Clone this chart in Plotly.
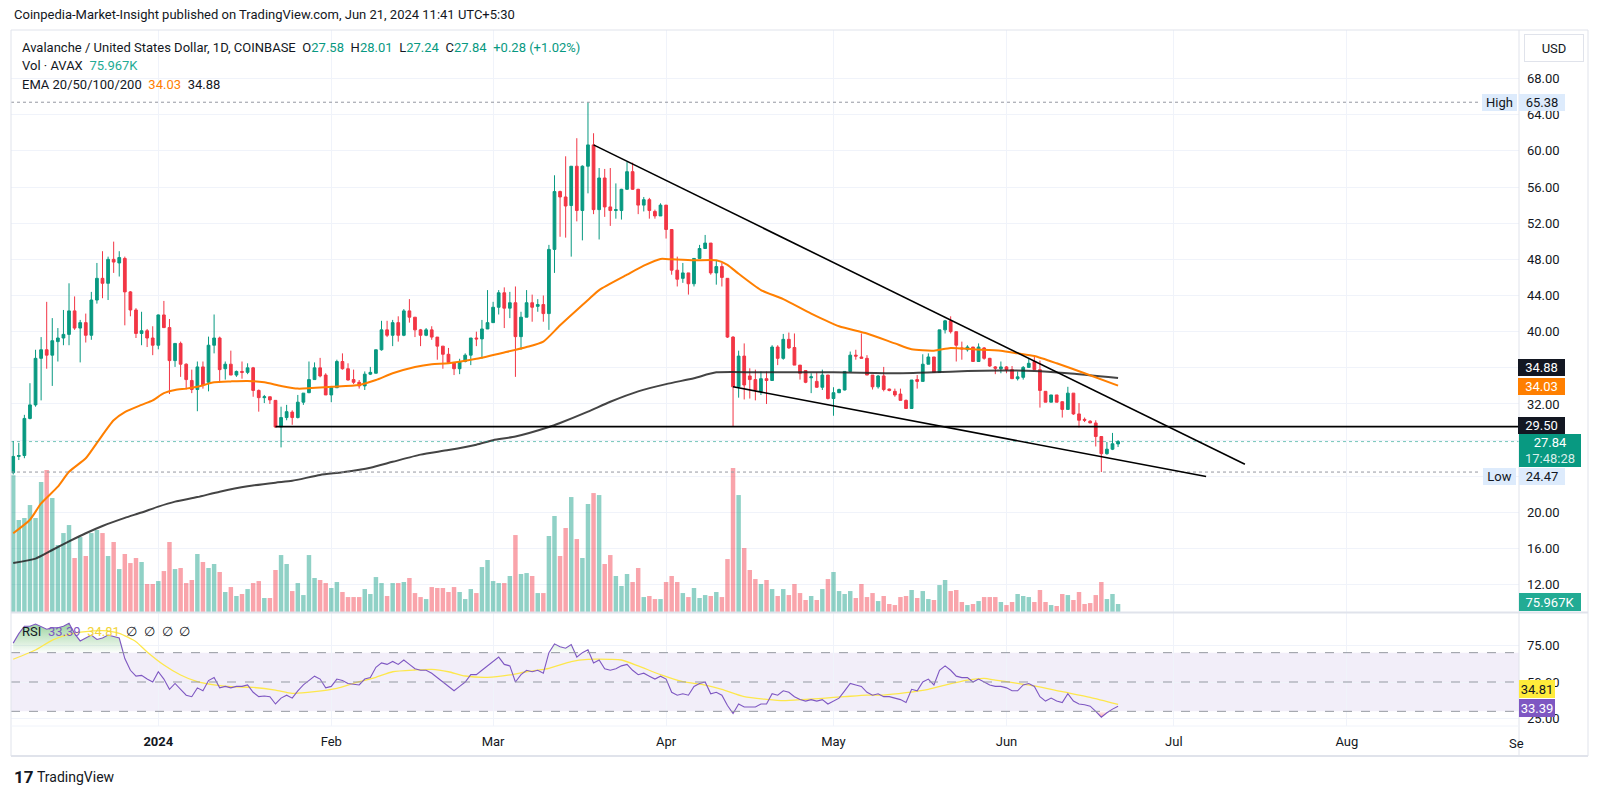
import plotly.graph_objects as go
import pandas as pd

# ---------------- data ----------------
dates = pd.date_range("2023-12-06", periods=199, freq="D")

opens = [24.4,26.2,26.3,30.4,31.9,37.05,38.0,37.4,38.9,39.3,
         39.7,42.3,40.4,41.0,39.6,43.5,45.9,45.35,48.0,47.6,
         48.1,44.4,42.4,39.8,40.1,39.3,38.5,41.85,40.45,36.8,
         38.7,36.4,34.6,33.6,36.1,34.4,38.5,39.3,35.9,36.4,
         35.2,35.6,35.5,36.0,33.5,32.7,32.8,32.4,29.45,30.5,
         31.1,30.5,32.2,33.25,34.7,36.0,35.2,33.0,33.8,36.7,
         35.9,34.7,34.4,34.0,35.3,35.4,38.0,40.2,39.6,41.0,
         39.6,42.3,41.6,40.2,39.6,40.2,39.4,38.4,37.5,36.6,
         35.9,36.7,37.4,39.3,39.2,40.3,41.0,42.7,44.3,42.6,
         43.2,39.45,41.6,43.2,42.8,43.0,42.0,49.1,55.5,54.9,
         53.95,58.3,53.4,58.3,60.66,53.5,57.0,53.8,53.4,53.4,
         55.75,57.7,55.75,54.0,54.6,53.3,52.8,54.0,51.3,46.8,
         45.9,46.5,45.3,48.1,49.2,49.8,46.5,47.2,45.9,39.4,
         33.9,37.3,35.1,34.7,33.4,34.8,34.6,38.3,37.05,39.15,
         38.25,36.3,35.7,34.9,34.5,33.85,35.2,32.6,33.25,33.55,
         35.6,37.4,37.2,37.05,35.2,33.9,35.1,33.65,33.4,33.1,
         32.4,31.5,34.7,34.5,36.4,37.2,35.5,40.2,41.2,40.0,
         38.2,38.0,38.3,36.7,38.2,37.05,36.1,35.9,36.1,35.8,
         34.8,34.95,36.05,36.7,35.8,33.4,32.2,33.0,32.25,31.4,
         33.2,30.9,30.3,30.1,29.9,28.4,26.5,27.0,27.58]
highs = [27.9,27.7,30.8,34.3,38.0,39.4,43.3,41.5,40.4,42.4,
         45.35,43.9,41.3,42.0,44.4,47.6,48.9,48.3,49.96,48.9,
         48.3,44.5,42.6,42.2,40.3,40.6,41.9,43.4,41.4,38.7,
         38.9,36.5,35.8,36.7,36.7,39.45,41.9,39.45,36.7,37.9,
         35.7,36.7,36.5,36.1,33.6,33.0,32.8,32.4,31.7,31.9,
         31.3,33.0,33.2,36.7,36.6,37.1,35.4,33.8,36.9,37.6,
         36.5,35.8,34.65,35.6,36.1,38.0,41.2,41.2,41.3,41.7,
         42.5,43.6,41.6,40.3,40.4,40.6,39.4,38.4,38.2,36.6,
         37.0,37.6,39.3,40.0,41.3,44.6,43.3,44.6,44.9,44.4,
         45.0,42.2,44.6,44.1,43.6,44.0,49.6,57.3,55.6,59.4,
         58.3,61.4,58.4,65.38,61.95,58.1,58.0,58.1,56.4,55.8,
         58.8,58.7,55.8,54.9,54.8,53.5,54.2,54.0,51.3,48.3,
         47.6,46.5,48.1,49.6,50.7,49.8,47.9,47.6,45.9,39.5,
         37.9,38.7,35.95,35.8,35.6,35.6,38.5,38.5,39.75,39.9,
         39.8,36.3,35.7,35.4,35.5,35.8,35.2,33.85,33.7,35.6,
         37.8,38.0,39.8,37.4,35.2,35.2,36.1,33.7,33.7,33.7,
         32.5,34.65,35.2,37.5,37.6,37.2,40.2,41.3,41.7,40.0,
         38.9,38.5,38.3,38.7,38.3,37.1,36.2,36.7,36.2,36.2,
         35.6,36.2,37.05,37.2,36.8,33.4,33.0,33.0,32.3,33.9,
         33.2,32.1,30.5,30.2,30.2,28.4,27.8,28.8,28.01]
lows = [24.2,25.8,26.0,30.3,31.7,32.4,35.9,34.0,36.7,38.5,
        38.5,40.2,36.6,38.8,39.1,43.1,43.7,43.5,46.5,46.1,
        40.7,41.7,39.3,38.5,38.3,37.4,38.05,40.4,33.1,36.1,
        35.0,33.6,33.2,31.2,33.7,33.4,37.6,34.5,34.7,35.2,
        35.0,34.8,35.3,32.8,31.15,32.1,32.0,29.4,27.2,30.2,
        29.7,30.4,31.9,33.2,34.7,34.95,33.0,32.2,33.8,35.8,
        34.6,34.2,33.7,33.55,35.2,35.4,37.9,39.4,38.4,38.9,
        39.5,41.0,39.4,38.4,39.5,39.1,36.9,35.9,36.5,35.2,
        35.3,36.6,36.3,38.4,37.0,40.3,41.0,41.9,40.4,41.5,
        35.0,38.0,41.6,41.1,42.2,41.1,40.2,46.5,50.5,50.4,
        48.3,52.2,50.1,55.3,53.0,50.2,52.7,51.7,52.5,52.4,
        55.7,55.7,53.0,53.3,52.5,52.5,52.8,50.3,46.3,45.0,
        45.4,44.1,45.0,48.1,49.2,46.3,45.2,45.0,39.3,29.5,
        32.7,32.5,32.6,32.4,33.0,32.0,34.6,36.3,36.9,38.1,
        36.3,34.7,34.3,33.2,33.8,33.55,32.5,30.7,33.2,33.5,
        35.6,36.9,37.05,35.2,33.6,33.7,33.4,33.4,32.8,32.4,
        31.5,31.5,33.7,34.5,36.4,35.5,35.5,39.8,39.8,36.7,
        36.9,37.8,36.7,36.7,36.9,36.1,35.3,35.4,35.4,34.8,
        34.6,34.7,36.0,35.8,31.6,32.2,32.2,32.2,30.5,31.4,
        30.8,29.4,30.0,29.9,27.3,24.47,26.4,26.9,27.24]
closes = [26.2,26.3,30.4,31.9,37.05,38.0,37.4,39.0,39.3,39.7,
          42.3,40.4,41.0,39.6,43.5,45.9,45.35,48.0,47.7,48.2,
          44.4,42.4,39.8,40.1,39.3,38.5,41.85,40.45,36.8,38.7,
          36.4,34.7,33.6,36.1,34.1,38.5,39.3,35.8,36.4,35.2,
          35.6,35.5,36.0,33.5,32.7,32.8,32.45,29.45,30.5,31.15,
          30.5,32.2,33.2,34.7,36.0,35.1,33.0,33.8,36.7,35.9,
          34.65,34.4,34.0,35.3,35.5,38.0,40.2,39.6,41.0,39.6,
          42.3,41.6,40.2,39.6,40.2,39.4,38.4,37.5,36.6,35.9,
          36.7,37.4,39.3,39.2,40.3,41.0,42.7,44.3,42.6,43.2,
          39.45,41.6,43.2,42.7,43.0,42.0,49.1,55.5,54.9,53.9,
          58.3,53.4,58.3,60.66,53.5,57.0,53.8,53.4,53.5,55.75,
          57.7,55.75,54.0,54.6,53.4,52.8,54.0,51.3,46.8,45.8,
          46.5,45.3,48.1,49.2,49.8,46.5,47.2,46.0,39.4,33.9,
          37.3,34.1,34.7,33.55,34.8,34.6,38.3,37.05,39.15,38.2,
          36.3,35.4,34.4,35.0,33.85,35.2,32.6,33.25,33.6,35.6,
          37.4,37.3,37.05,35.2,33.9,35.1,33.6,33.5,33.0,32.4,
          31.5,34.65,34.5,36.4,37.2,35.5,40.2,41.2,40.0,38.5,
          38.1,38.3,36.7,38.3,37.05,36.2,35.95,36.1,35.8,34.8,
          35.0,36.05,36.5,35.8,33.5,32.2,33.0,32.2,31.4,33.2,
          30.9,30.2,30.2,29.9,28.4,26.5,27.0,27.6,27.84]
volume_k = [1300,874,893,1016,893,1235,1349,1083,636,750,
            826,513,712,532,750,779,750,532,665,408,
            551,465,513,475,266,266,294,389,665,408,
            418,275,304,551,475,418,456,380,190,237,
            152,171,218,275,294,133,133,399,541,456,
            199,275,161,541,323,304,275,228,285,190,
            142,142,142,218,171,332,275,152,275,275,
            285,323,180,142,123,237,228,228,190,237,
            190,123,218,180,427,494,294,275,275,342,
            731,361,370,342,180,180,722,912,532,798,
            1092,693,513,1026,1130,1111,456,541,342,247,
            361,285,418,142,152,123,123,285,342,285,
            180,142,228,133,161,152,190,142,503,1368,
            1111,608,399,313,266,304,218,152,218,161,
            266,180,114,152,114,218,313,380,199,171,
            199,133,266,142,180,104,152,76,66,142,
            152,209,133,199,123,114,256,304,199,209,
            95,66,76,104,142,142,142,95,66,95,
            171,152,142,95,209,95,66,57,171,161,
            114,190,76,85,161,285,123,171,75.967]
rsi = [76.5,83,88,88,89.5,88,86,87,87,88,
       90,83,78,80,82,79,80,82,81,80,
       66,58,54,54.5,52,50,57,52,45,49,
       45,41,40,46,44,51,53,46,47,46,
       47,47,48,43,40,40.5,40,35,39,41,
       39,44,48,51,54,52,46,47,52,51,
       49,48.5,48,52,53,60,63,62,64,62,
       65,62,59,58,58,56,53,50,47,44,
       47,50,55,55,58,61,64,67,62,61,
       50,55,58,57,58,56,70,76,74,73,
       75.5,67,70,72,63,65,59,58,59,61,
       62,58,55,56,54,52,54,52,43,41,
       42,41,47,49,50,42,43,41,34,28.5,
       35,33,33,33,35,35,42,41,44,43,
       40,38,37,38,37,38,35,37,39,44,
       49,48,47,43,41,42,40,40,39,38,
       36,45,44,50,52,48,58,61,58,54,
       53,53,50,52,50,48,47,47,46,44,
       44,48,49,47,40,37,39,37,36,42,
       37,35,34.5,33.5,30,26,29,31.5,33.39]

ema50_dates = ["2023-12-06","2023-12-09","2023-12-11","2023-12-14","2023-12-16","2023-12-19","2023-12-21",
               "2023-12-24","2023-12-26","2023-12-29","2023-12-31","2024-01-02","2024-01-04","2024-01-06",
               "2024-01-08","2024-01-11","2024-01-14","2024-01-17","2024-01-20","2024-01-23","2024-01-26",
               "2024-02-01","2024-02-06","2024-02-09","2024-02-12","2024-02-16","2024-02-19","2024-02-22",
               "2024-02-27","2024-03-03","2024-03-07","2024-03-10","2024-03-13","2024-03-18","2024-03-20",
               "2024-03-25","2024-03-28","2024-03-31","2024-04-02","2024-04-06","2024-04-10","2024-04-12",
               "2024-04-14","2024-04-18","2024-04-22","2024-04-27","2024-05-02","2024-05-07","2024-05-12",
               "2024-05-15","2024-05-19","2024-05-22","2024-05-26","2024-05-31","2024-06-03","2024-06-06",
               "2024-06-10","2024-06-15","2024-06-21"]
ema50_vals = [17.7,19.2,21.0,22.85,24.5,26.0,27.7,30.2,31.1,31.9,32.4,
              33.2,33.55,33.7,33.9,34.4,34.5,34.55,34.4,34.0,33.7,
              33.9,34.1,34.65,35.4,36.1,36.4,36.5,37.0,
              37.7,38.3,38.9,40.7,43.5,44.6,46.3,47.3,48.05,
              48.0,47.9,47.9,47.4,46.4,44.6,43.6,42.0,
              40.6,39.8,38.7,38.05,37.9,38.2,38.05,37.9,
              37.6,37.3,36.5,35.4,34.03]

ema200_dates = ["2023-12-06","2023-12-10","2023-12-13","2023-12-16","2023-12-19","2023-12-22","2023-12-26",
                "2023-12-29","2024-01-01","2024-01-04","2024-01-08","2024-01-12","2024-01-17","2024-01-22",
                "2024-01-25","2024-01-30","2024-02-03","2024-02-08","2024-02-12","2024-02-17","2024-02-22",
                "2024-02-27","2024-03-01","2024-03-05","2024-03-11","2024-03-13","2024-03-18","2024-03-22",
                "2024-03-27","2024-04-01","2024-04-06","2024-04-10","2024-04-19","2024-05-01","2024-05-13",
                "2024-05-19","2024-05-25","2024-05-31","2024-06-06","2024-06-12","2024-06-21"]
ema200_vals = [14.4,14.9,15.85,16.8,17.7,18.5,19.4,20.0,
               20.65,21.2,21.7,22.3,22.9,23.3,23.5,24.15,
               24.45,24.95,25.6,26.4,26.9,27.5,
               28.0,28.4,29.45,29.9,31.15,32.25,33.4,
               34.2,34.85,35.5,35.5,
               35.5,35.4,35.5,35.65,35.7,
               35.65,35.4,34.88]

rsima_dates = ["2023-12-06","2023-12-10","2023-12-13","2023-12-16","2023-12-19","2023-12-22","2023-12-25",
               "2023-12-28","2023-12-30","2024-01-02","2024-01-05","2024-01-08","2024-01-11","2024-01-14",
               "2024-01-18","2024-01-22","2024-01-25","2024-01-29","2024-02-02","2024-02-05","2024-02-09",
               "2024-02-12","2024-02-16","2024-02-19","2024-02-22","2024-02-25","2024-02-29","2024-03-04",
               "2024-03-07","2024-03-11","2024-03-15","2024-03-18","2024-03-22","2024-03-24","2024-03-27",
               "2024-03-31","2024-04-04","2024-04-08","2024-04-11","2024-04-15","2024-04-19","2024-04-22",
               "2024-04-26","2024-04-29","2024-05-03","2024-05-07","2024-05-10","2024-05-14","2024-05-18",
               "2024-05-21","2024-05-25","2024-05-28","2024-05-30","2024-06-03","2024-06-06","2024-06-11",
               "2024-06-16","2024-06-21"]
rsima_vals = [65.5,71.8,78.6,82.5,84.3,85.0,83.2,77.5,70.5,
              61.6,54.8,50.2,48.0,46.8,46.3,44.5,42.3,43.4,
              45.7,49.1,53.2,57.0,58.2,58.6,57.0,54.1,53.2,
              54.8,57.0,59.3,63.9,65.4,65.4,65.0,61.0,55.0,
              50.2,47.9,45.0,40.0,38.2,37.3,38.2,38.9,
              40.0,41.1,41.1,42.7,45.0,47.9,51.3,52.5,51.3,
              49.1,47.3,43.4,39.6,34.81]

# user drawings
upper_trend_x = ["2024-03-19", "2024-07-13 17:30"]
upper_trend_y = [60.66, 25.33]
lower_trend_x = ["2024-04-13", "2024-07-06 18:40"]
lower_trend_y = [33.9, 23.98]
support_start = "2024-01-22"
support_level = 29.50
high_val, low_val, last_close = 65.38, 24.47, 27.84

month_ticks = ["2024-01-01","2024-02-01","2024-03-01","2024-04-01","2024-05-01","2024-06-01","2024-07-01","2024-08-01"]
month_labels = ["<b>2024</b>","Feb","Mar","Apr","May","Jun","Jul","Aug"]
price_ticks = [12,16,20,24,28,32,36,40,44,48,52,56,60,64,68]
price_labels = ["12.00","16.00","20.00","","","32.00","","40.00","44.00","48.00","52.00","56.00","60.00","64.00","68.00"]

# ---------------- styling / layout ----------------
UP, DN = "#089981", "#F23645"
UPV, DNV = "rgba(8,153,129,0.45)", "rgba(242,54,69,0.45)"
TXT = "#131722"
GRID = "#F0F3FA"
FONT = "Roboto, 'Noto Sans', sans-serif"

L, R, T, B = 11, 1519, 30, 726
W, H = R - L, B - T
def px(x): return (x - L) / W
def py(y): return (B - y) / H

vol_colors = [UPV if c >= o else DNV for o, c in zip(opens, closes)]
n = len(dates)

fig = go.Figure()
fig.add_trace(go.Bar(x=dates, y=volume_k, marker=dict(color=vol_colors, line=dict(width=0)),
                     xaxis="x", yaxis="y", hoverinfo="skip"))
fig.add_trace(go.Scatter(x=ema200_dates, y=ema200_vals, mode="lines", xaxis="x", yaxis="y3",
                         line=dict(color="rgba(35,35,35,0.85)", width=2, shape="spline", smoothing=0.6),
                         hoverinfo="skip"))
fig.add_trace(go.Scatter(x=ema50_dates, y=ema50_vals, mode="lines", xaxis="x", yaxis="y3",
                         line=dict(color="#FF7F00", width=2, shape="spline", smoothing=0.6),
                         hoverinfo="skip"))
fig.add_trace(go.Candlestick(x=dates, open=opens, high=highs, low=lows, close=closes,
                             xaxis="x", yaxis="y3", whiskerwidth=0,
                             increasing=dict(line=dict(color=UP, width=1), fillcolor=UP),
                             decreasing=dict(line=dict(color=DN, width=1), fillcolor=DN),
                             hoverinfo="skip"))

# RSI overbought / oversold fills
fig.add_trace(go.Scatter(x=dates, y=[70] * n, mode="lines", line=dict(width=0), xaxis="x", yaxis="y2",
                         hoverinfo="skip"))
fig.add_trace(go.Scatter(x=dates, y=[max(v, 70) for v in rsi], mode="lines", line=dict(width=0),
                         fill="tonexty", xaxis="x", yaxis="y2", hoverinfo="skip",
                         fillgradient=dict(type="vertical",
                                           colorscale=[[0, "rgba(76,175,80,0.02)"], [1, "rgba(76,175,80,0.55)"]])))
fig.add_trace(go.Scatter(x=dates, y=[30] * n, mode="lines", line=dict(width=0), xaxis="x", yaxis="y2",
                         hoverinfo="skip"))
fig.add_trace(go.Scatter(x=dates, y=[min(v, 30) for v in rsi], mode="lines", line=dict(width=0),
                         fill="tonexty", xaxis="x", yaxis="y2", hoverinfo="skip",
                         fillgradient=dict(type="vertical",
                                           colorscale=[[0, "rgba(242,54,69,0.5)"], [1, "rgba(242,54,69,0.02)"]])))
fig.add_trace(go.Scatter(x=rsima_dates, y=rsima_vals, mode="lines", xaxis="x", yaxis="y2",
                         line=dict(color="#FDE74C", width=1.3, shape="spline", smoothing=0.6), hoverinfo="skip"))
fig.add_trace(go.Scatter(x=dates, y=rsi, mode="lines", xaxis="x", yaxis="y2",
                         line=dict(color="#7E57C2", width=1.1), hoverinfo="skip"))

shapes = []
# RSI band and levels
shapes.append(dict(type="rect", xref="paper", yref="y2", x0=0, x1=1, y0=30, y1=70,
                   fillcolor="rgba(126,87,194,0.1)", line=dict(width=0), layer="below"))
for lv in (70, 50, 30):
    shapes.append(dict(type="line", xref="paper", yref="y2", x0=0, x1=1, y0=lv, y1=lv,
                       line=dict(color="#9598A1", width=1, dash="dash")))
# high / low / last price dotted lines
shapes.append(dict(type="line", xref="paper", yref="y3", x0=0, x1=px(1481), y0=high_val, y1=high_val,
                   line=dict(color="#9598A1", width=1, dash="dot")))
shapes.append(dict(type="line", xref="paper", yref="y3", x0=0, x1=px(1481), y0=low_val, y1=low_val,
                   line=dict(color="#9598A1", width=1, dash="dot")))
shapes.append(dict(type="line", xref="paper", yref="y3", x0=0, x1=1, y0=last_close, y1=last_close,
                   line=dict(color="rgba(8,153,129,0.55)", width=1, dash="dot")))
# drawings
shapes.append(dict(type="line", xref="x", yref="y3", x0=support_start, x1="2024-09-10",
                   y0=support_level, y1=support_level, line=dict(color="#000000", width=1.6)))
shapes.append(dict(type="line", xref="x", yref="y3", x0=upper_trend_x[0], x1=upper_trend_x[1],
                   y0=upper_trend_y[0], y1=upper_trend_y[1], line=dict(color="#000000", width=1.6)))
shapes.append(dict(type="line", xref="x", yref="y3", x0=lower_trend_x[0], x1=lower_trend_x[1],
                   y0=lower_trend_y[0], y1=lower_trend_y[1], line=dict(color="#000000", width=1.6)))
# frame
FR = "#E0E3EB"
shapes += [
    dict(type="line", xref="paper", yref="paper", x0=px(11), x1=px(1588), y0=py(30), y1=py(30), line=dict(color=FR, width=1)),
    dict(type="line", xref="paper", yref="paper", x0=px(11), x1=px(1588), y0=py(756), y1=py(756), line=dict(color=FR, width=2)),
    dict(type="line", xref="paper", yref="paper", x0=px(11), x1=px(11), y0=py(30), y1=py(756), line=dict(color=FR, width=1)),
    dict(type="line", xref="paper", yref="paper", x0=px(1588), x1=px(1588), y0=py(30), y1=py(756), line=dict(color=FR, width=1)),
    dict(type="line", xref="paper", yref="paper", x0=px(1519), x1=px(1519), y0=py(30), y1=py(756), line=dict(color=FR, width=1)),
    dict(type="line", xref="paper", yref="paper", x0=px(11), x1=px(1588), y0=py(612.5), y1=py(612.5), line=dict(color=FR, width=2)),
    dict(type="line", xref="paper", yref="paper", x0=px(11), x1=px(1519), y0=py(726), y1=py(726), line=dict(color="#F0F3FA", width=1)),
]

ann = []
def text(t, x, y, size=13, color=TXT, anchor="left"):
    ann.append(dict(text=t, xref="paper", yref="paper", x=px(x), y=py(y), xanchor=anchor, yanchor="middle",
                    showarrow=False, font=dict(size=size, color=color, family=FONT)))
def box(t, xc, yc, w, h, bg, fg="#FFFFFF", size=13, border=None):
    ann.append(dict(text=t, xref="paper", yref="paper", x=px(xc), y=py(yc), xanchor="center", yanchor="middle",
                    showarrow=False, width=w, height=h, bgcolor=bg, borderpad=0,
                    bordercolor=border if border else bg, borderwidth=1 if border else 0,
                    font=dict(size=size, color=fg, family=FONT)))

G = UP
sp = "\u2002"
text("Coinpedia-Market-Insight published on TradingView.com, Jun 21, 2024 11:41 UTC+5:30", 12, 15, size=13)
text("Avalanche / United States Dollar, 1D, COINBASE" + sp +
     f"O<span style='color:{G}'>27.58</span>{sp}H<span style='color:{G}'>28.01</span>{sp}"
     f"L<span style='color:{G}'>27.24</span>{sp}C<span style='color:{G}'>27.84</span>{sp}"
     f"<span style='color:{G}'>+0.28 (+1.02%)</span>", 20, 47)
text(f"Vol · AVAX{sp}<span style='color:#22AB94'>75.967K</span>", 20, 65.5)
text(f"EMA 20/50/100/200{sp}<span style='color:#FF7F00'>34.03</span>{sp}34.88", 20, 84)
text(f"RSI{sp}<span style='color:#7E57C2'>33.39</span>{sp}<span style='color:#F2D43A'>34.81</span>"
     f"{sp}∅{sp}∅{sp}∅{sp}∅", 20, 631)
text("Se", 1507, 743)
text("<b>17</b>", 12, 777, size=17, color="#131722")
text("TradingView", 35, 777, size=14)

# right-side price labels
box("USD", 1553.5, 48.5, 58, 26, "#FFFFFF", fg=TXT, border="#E0E3EB")
box("High", 1499, 102.5, 35, 17, "#DDEBFC", fg=TXT)
box("65.38", 1541.5, 102.5, 46, 17, "#DDEBFC", fg=TXT)
box("34.88", 1541.5, 367, 47, 17, "#131722")
box("34.03", 1541.5, 386.5, 47, 17, "#FF7F00")
box("29.50", 1541.5, 425, 47, 17, "#131722")
box("27.84<br><span style='color:rgba(255,255,255,0.85)'>17:48:28</span>", 1550, 450, 62, 33, UP)
box("Low", 1499.5, 477, 33, 17, "#DDEBFC", fg=TXT)
box("24.47", 1541.5, 477, 46, 17, "#DDEBFC", fg=TXT)
box("75.967K", 1550, 601.5, 62, 18, "#22AB94")
box("34.81", 1536.5, 689, 36, 18, "#FFEB3B", fg=TXT)
box("33.39", 1536.5, 707.5, 36, 18, "#7E57C2")

x_start, x_end = "2023-12-05 14:27", "2024-08-31 20:24"
vol_px = 612 - 30

fig.update_layout(
    width=1600, height=796,
    margin=dict(l=L, r=1600 - R, t=T, b=796 - B),
    paper_bgcolor="white", plot_bgcolor="white",
    showlegend=False, bargap=0.2, dragmode=False,
    font=dict(family=FONT, color=TXT, size=13),
    xaxis=dict(type="date", range=[x_start, x_end], anchor="y2", domain=[0, 1],
               showgrid=True, gridcolor=GRID, gridwidth=1, zeroline=False, showline=False,
               tickvals=month_ticks, ticktext=month_labels, ticks="", ticklabelstandoff=6,
               tickfont=dict(size=13, color=TXT), rangeslider=dict(visible=False), fixedrange=True),
    yaxis=dict(domain=[py(612), 1], range=[0, vol_px * 9.5], visible=False, fixedrange=True),
    yaxis3=dict(overlaying="y", anchor="x", side="right", range=[8.99, 73.37],
                tickvals=price_ticks, ticktext=price_labels, showgrid=True, gridcolor=GRID,
                zeroline=False, showline=False, ticks="", ticklabelstandoff=7,
                tickfont=dict(size=13, color=TXT), fixedrange=True),
    yaxis2=dict(domain=[0, py(613)], anchor="x", side="right", range=[20.0, 97.05],
                tickvals=[25, 50, 75], ticktext=["25.00", "50.00", "75.00"], showgrid=True, gridcolor=GRID,
                zeroline=False, showline=False, ticks="", ticklabelstandoff=7,
                tickfont=dict(size=13, color=TXT), fixedrange=True),
    shapes=shapes, annotations=ann,
)

fig.write_html("out.html", config={"displayModeBar": False, "staticPlot": True},
               post_script="document.body.style.margin='0px';")
